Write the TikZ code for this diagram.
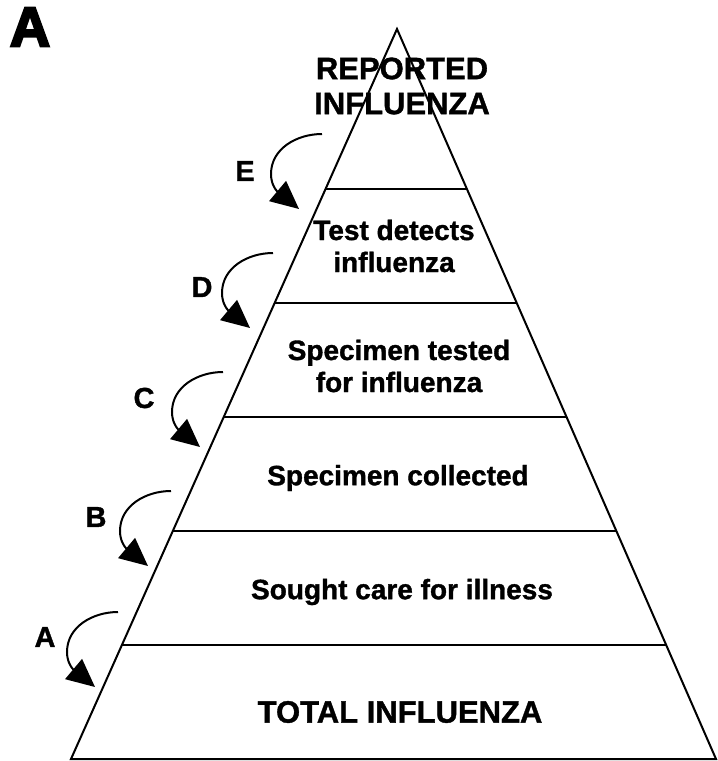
\documentclass[tikz,border=0pt]{standalone}
\usepackage{fontspec}
\setmainfont{Liberation Sans}
\newfontfamily\heavyfont[FakeBold=4]{Liberation Sans Bold}
\newfontfamily\boldfont[FakeBold=1.2]{Liberation Sans Bold}
\usetikzlibrary{arrows.meta,calc}
\tikzset{
  edge/.style={line width=2pt, line join=miter},
  band/.style={line width=1.6pt},
  bandtext/.style={font=\boldfont\fontsize{28}{32}\selectfont, align=center, inner sep=0pt},
  bigtext/.style={font=\boldfont\fontsize{31}{35}\selectfont, align=center, inner sep=0pt},
  lettertext/.style={font=\boldfont\fontsize{29}{30}\selectfont, inner sep=0pt},
  curvarrow/.style={line width=2pt, -{Triangle[length=28pt,width=26pt]}}
}
\begin{document}
\begin{tikzpicture}[x=1pt,y=-1pt]
\useasboundingbox (0,0) rectangle (718,761);
% pyramid
\coordinate (apex) at (397,29);
\coordinate (bl) at (71,759);
\coordinate (br) at (716,759);
\draw[edge] (bl) -- (apex) -- (br) -- cycle;
\foreach \t/\n in {0.2192/1,0.3753/2,0.5315/3,0.6877/4,0.8438/5}{
  \coordinate (L\n) at ($(apex)!\t!(bl)$);
  \coordinate (R\n) at ($(apex)!\t!(br)$);
  \draw[band] (L\n) -- (R\n);
}
% big panel letter
\node[font=\heavyfont\fontsize{56}{56}\selectfont, anchor=center, inner sep=0pt] (panel) at (30,27) {A};
% texts
\node[bigtext] (rep) at (402,86) {REPORTED\\INFLUENZA};
\node[bandtext] (t1) at (394,246) {Test detects\\influenza};
\node[bandtext] (t2) at (399,366) {Specimen tested\\for influenza};
\node[bandtext] (t3) at (398,478) {Specimen collected};
\node[bandtext] (t4) at (402,592) {Sought care for illness};
\node[bigtext] (t5) at (400,712) {TOTAL INFLUENZA};
% letter labels
\node[lettertext] (lA) at (45,637) {A};
\node[lettertext] (lB) at (96,517) {B};
\node[lettertext] (lC) at (144,398) {C};
\node[lettertext] (lD) at (202,287) {D};
\node[lettertext] (lE) at (245,171) {E};
% curved arrows
\foreach \n/\x/\y in {A/118/612,B/171/491,C/223/372,D/273/253,E/322/134}{
  \coordinate (s\n) at (\x,\y);
  \coordinate (m\n) at ($(\x,\y)+(-51,40)$);
  \coordinate (e\n) at ($(\x,\y)+(-23,75)$);
  \draw[curvarrow] (s\n) to[out=180,in=90] (m\n) to[out=-90,in=140] (e\n);
}
\end{tikzpicture}
\end{document}
